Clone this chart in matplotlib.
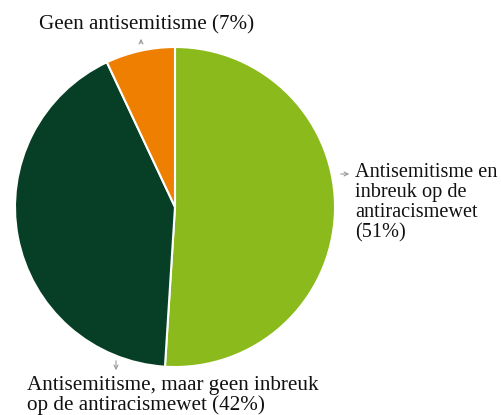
import matplotlib
matplotlib.use("Agg")
import matplotlib.pyplot as plt

labels = ["Antisemitisme en\ninbreuk op de\nantiracismewet\n(51%)",
          "Antisemitisme, maar geen inbreuk\nop de antiracismewet (42%)",
          "Geen antisemitisme (7%)"]
values = [51, 42, 7]
colors = ["#8aba1c", "#063f26", "#ee7f00"]

W, H = 502, 415
fig = plt.figure(figsize=(W/100, H/100), dpi=100)
ax = fig.add_axes([0, 0, 1, 1])

cx, cy, r = 175, H - 207, 160
ax.pie(values, colors=colors, startangle=90, counterclock=False,
       center=(cx, cy), radius=r, frame=True,
       wedgeprops=dict(edgecolor="white", linewidth=1.5))
ax.set_xlim(0, W)
ax.set_ylim(0, H)
ax.axis("off")

fam = ["Liberation Serif", "DejaVu Serif"]
arrow = dict(arrowstyle="->", color="#999999", lw=0.8, mutation_scale=7)

# right label
ax.annotate("", xy=(352, H - 174), xytext=(338, H - 174), arrowprops=arrow)
ax.text(355, H - 237, labels[0], ha="left", va="baseline", linespacing=1.06,
        family=fam, fontsize=14.6, color="#111111")
# bottom label
ax.annotate("", xy=(116, H - 373), xytext=(116, H - 358), arrowprops=arrow)
ax.text(27, H - 410, labels[1], ha="left", va="baseline", linespacing=1.0,
        family=fam, fontsize=15.2, color="#111111")
# top label
ax.annotate("", xy=(141, H - 36), xytext=(141, H - 46), arrowprops=arrow)
ax.text(147, H - 29, labels[2], ha="center", va="baseline",
        family=fam, fontsize=15.2, color="#111111")

fig.savefig("out.png", dpi=100)
